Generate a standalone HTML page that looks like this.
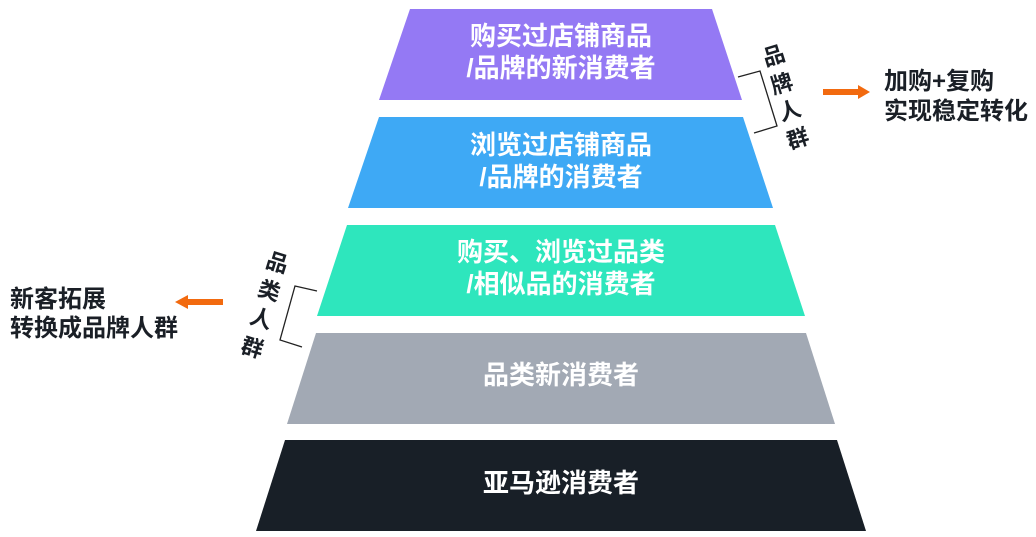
<!DOCTYPE html>
<html><head><meta charset="utf-8"><style>
html,body{margin:0;padding:0;background:#fff;}
svg{display:block;}
text{font-family:"Liberation Sans","Noto Sans CJK SC",sans-serif;font-weight:bold;}
</style></head><body>
<svg width="1036" height="537" viewBox="0 0 1036 537">
<polygon points="410,9 712,9 742,100 379,100" fill="#9479f4"/>
<polygon points="379,117 743,117 773,208 348,208" fill="#3ea9f5"/>
<polygon points="347,225 775,225 805,316 317,316" fill="#2ee6bd"/>
<polygon points="316,333 806,333 835,424 287,424" fill="#a2a9b4"/>
<polygon points="285,440 837,440 866,531 256,531" fill="#181f27"/>
<g fill="#fff" font-size="26" text-anchor="middle">
<text x="561" y="45">购买过店铺商品</text>
<text x="561" y="77">/品牌的新消费者</text>
<text x="561" y="154">浏览过店铺商品</text>
<text x="561" y="186">/品牌的消费者</text>
<text x="561" y="261">购买、浏览过品类</text>
<text x="561" y="293">/相似品的消费者</text>
<text x="561" y="384">品类新消费者</text>
<text x="561" y="492">亚马逊消费者</text>
</g>
<polyline points="738,77 760,71 777,126 754,133" fill="none" stroke="#222" stroke-width="1.3"/>
<polyline points="317,291 295,286 280,340 302,347" fill="none" stroke="#222" stroke-width="1.3"/>
<g fill="#1a1f26" font-size="22" text-anchor="middle">
<text transform="translate(776,63) rotate(-17)">品</text>
<text transform="translate(784,91) rotate(-17)">牌</text>
<text transform="translate(792,118) rotate(-17)">人</text>
<text transform="translate(800,146) rotate(-17)">群</text>
<text transform="translate(275,270) rotate(17)">品</text>
<text transform="translate(267,298) rotate(17)">类</text>
<text transform="translate(259,326) rotate(17)">人</text>
<text transform="translate(250,355) rotate(17)">群</text>
</g>
<g fill="#1a1f26" font-size="24">
<text x="884" y="89">加购+复购</text>
<text x="884" y="119">实现稳定转化</text>
<text x="10" y="307">新客拓展</text>
<text x="10" y="336">转换成品牌人群</text>
</g>
<polygon points="823,89 858,89 858,85 870,92 858,99 858,95 823,95" fill="#f26a0f"/>
<polygon points="223,299 188,299 188,295 175,302 188,309 188,305 223,305" fill="#f26a0f"/>
</svg>
</body></html>
